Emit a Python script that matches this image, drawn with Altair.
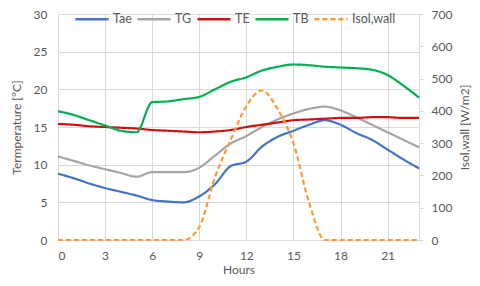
import altair as alt
import pandas as pd

hours = list(range(24))
series_names = ["Tae", "TG", "TE", "TB", "Isol,wall"]
series_colors = ["#4472C4", "#A5A5A5", "#D01010", "#00B050", "#FF9A2E"]

tae = [8.8, 8.2, 7.5, 6.9, 6.4, 5.9, 5.3, 5.1, 5.0, 5.8, 7.4, 9.8, 10.4, 12.4, 13.7, 14.5, 15.3, 15.9, 15.3, 14.2, 13.3, 12.0, 10.7, 9.5]
tg = [11.1, 10.5, 9.9, 9.4, 8.9, 8.4, 9.0, 9.0, 9.0, 9.6, 11.2, 12.8, 13.8, 15.0, 16.0, 16.8, 17.4, 17.7, 17.2, 16.3, 15.3, 14.3, 13.3, 12.3]
te = [15.4, 15.3, 15.1, 15.0, 14.9, 14.8, 14.6, 14.5, 14.4, 14.3, 14.4, 14.6, 15.0, 15.3, 15.6, 15.9, 16.0, 16.1, 16.2, 16.2, 16.3, 16.3, 16.2, 16.2]
tb = [17.1, 16.6, 15.9, 15.2, 14.5, 14.3, 18.3, 18.4, 18.7, 19.0, 20.0, 21.0, 21.6, 22.5, 23.0, 23.3, 23.2, 23.0, 22.9, 22.8, 22.6, 21.9, 20.5, 18.9]
isol = [0, 0, 0, 0, 0, 0, 0, 0, 0, 40, 195, 310, 415, 463, 405, 300, 115, 0, 0, 0, 0, 0, 0, 0]

x_ticks = [0, 3, 6, 9, 12, 15, 18, 21]
left_ticks = [0, 5, 10, 15, 20, 25, 30]
right_ticks = [0, 100, 200, 300, 400, 500, 600, 700]

rows = []
for name, vals in zip(series_names[:4], [tae, tg, te, tb]):
    for h, v in zip(hours, vals):
        rows.append({"hour": h, "value": v, "series": name})
temp_df = pd.DataFrame(rows)
isol_df = pd.DataFrame({"hour": hours, "value": isol, "series": "Isol,wall"})

FONT = "Lato"
LABEL = "#595959"
GRID = "#D9D9D9"

color_scale = alt.Scale(domain=series_names, range=series_colors)
dash_scale = alt.Scale(domain=series_names, range=[[1, 0], [1, 0], [1, 0], [1, 0], [5, 3]])

legend = alt.Legend(
    title=None, orient="none", legendX=16, legendY=-13, direction="horizontal",
    columns=5, symbolType="stroke", symbolSize=1100, symbolStrokeWidth=2.5,
    labelFontSize=12.5, labelFont=FONT, labelColor=LABEL, columnPadding=0,
    labelOffset=3,
)

x_enc = alt.X("hour:Q", scale=alt.Scale(domain=[0, 23], nice=False),
              axis=alt.Axis(values=x_ticks, title="Hours", grid=True, ticks=False,
                            domain=False, labelPadding=10, titlePadding=3,
                            titleFontWeight="normal"))

left = alt.Chart(temp_df).mark_line(interpolate="monotone", strokeWidth=2.2).encode(
    x=x_enc,
    y=alt.Y("value:Q", scale=alt.Scale(domain=[0, 30], nice=False),
            axis=alt.Axis(values=left_ticks, title="Termperature [°C]", grid=True,
                          ticks=False, domain=False, labelPadding=11, titlePadding=10,
                          titleFontWeight="normal")),
    color=alt.Color("series:N", scale=color_scale, legend=legend),
    strokeDash=alt.StrokeDash("series:N", scale=dash_scale, legend=legend),
)

right = alt.Chart(isol_df).mark_line(interpolate="monotone", strokeWidth=2.2).encode(
    x=alt.X("hour:Q", scale=alt.Scale(domain=[0, 23], nice=False)),
    y=alt.Y("value:Q", scale=alt.Scale(domain=[0, 700], nice=False),
            axis=alt.Axis(orient="right", values=right_ticks, title="Isol,wall [W/m2]",
                          grid=False, ticks=True, tickSize=4, tickColor=GRID,
                          domain=True, domainColor=GRID, labelPadding=8, titlePadding=8,
                          titleAngle=270, titleBaseline="top",
                          titleFontWeight="normal")),
    color=alt.Color("series:N", scale=color_scale, legend=legend),
    strokeDash=alt.StrokeDash("series:N", scale=dash_scale, legend=legend),
)

chart = alt.layer(left, right).resolve_scale(y="independent").properties(
    width=361, height=226,
    background="white",
    autosize=alt.AutoSizeParams(type="none"),
    padding={"left": 50, "top": 6, "right": 53, "bottom": 38},
).configure_view(stroke=None).configure_axis(
    labelFont=FONT, titleFont=FONT, labelFontSize=12, titleFontSize=12,
    labelColor=LABEL, titleColor=LABEL, titleFontWeight="normal",
    gridColor=GRID, gridWidth=1,
)

chart.save("out.html", embed_options={"renderer": "svg", "actions": False})
